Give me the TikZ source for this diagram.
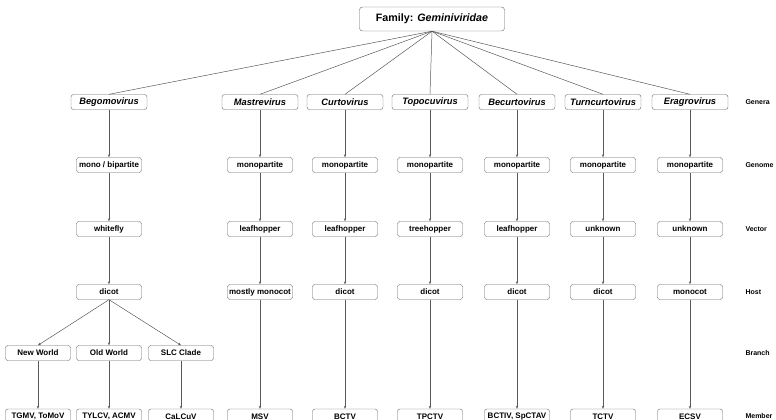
\documentclass[tikz,border=0pt]{standalone}
\usepackage{fontspec}
\setmainfont{Liberation Sans}
\usetikzlibrary{arrows.meta}
\begin{document}
\begin{tikzpicture}[x=1pt,y=-1pt,
  box/.style={draw=black!60, rounded corners=2.5pt, fill=white, inner sep=1pt,
    minimum width=65pt, minimum height=15pt, font=\bfseries\fontsize{8}{9}\selectfont},
  genbox/.style={box, minimum width=76pt, font=\bfseries\itshape\fontsize{9.3}{10}\selectfont},
  link/.style={draw=black!65, line width=0.5pt},
  arr/.style={link, -{Stealth[length=3pt,width=2.4pt]}},
  rowlab/.style={anchor=west, font=\bfseries\fontsize{7}{8}\selectfont}]
\useasboundingbox (0,0) rectangle (776,420);
% Family at the top
\node[box, minimum width=145pt, minimum height=24pt, rounded corners=3pt,
  font=\bfseries\fontsize{10.7}{12}\selectfont] (fam) at (432,19) {Family: \textit{Geminiviridae}};
% Row labels on the right
\foreach \lab/\y in {Genera/102, Genome/165, Vector/229, Host/292, Branch/353, Member/416} {
  \node[rowlab] (lab\lab) at (742,\y) {\lab};
}
% Begomovirus column, split into branches
\node[genbox] (gbego) at (109,102) {Begomovirus};
\node[box] (gmbego) at (109,165) {mono / bipartite};
\node[box] (vbego) at (109,229) {whitefly};
\node[box] (hbego) at (109,292) {dicot};
\draw[link] (fam.south) -- (gbego.north);
\draw[arr] (gbego) -- (gmbego);
\draw[arr] (gmbego) -- (vbego);
\draw[arr] (vbego) -- (hbego);
\foreach \n/\x/\br/\mem in {nw/38/New World/{TGMV, ToMoV}, ow/109/Old World/{TYLCV, ACMV}, slc/181/SLC Clade/CaLCuV} {
  \node[box] (b\n) at (\x,353) {\br};
  \node[box] (m\n) at (\x,416.5) {\mem};
  \draw[arr] (hbego.south) -- (b\n.north);
  \draw[arr] (b\n) -- (m\n);
}
% Remaining genera, one column each
\foreach \n/\x/\gen/\genome/\vec/\host/\mem in {
    mas/260/Mastrevirus/monopartite/leafhopper/mostly monocot/MSV,
    cur/345/Curtovirus/monopartite/leafhopper/dicot/BCTV,
    top/430/Topocuvirus/monopartite/treehopper/dicot/TPCTV,
    bec/517/Becurtovirus/monopartite/leafhopper/dicot/{BCTIV, SpCTAV},
    tur/603/Turncurtovirus/monopartite/unknown/dicot/TCTV,
    era/690/Eragrovirus/monopartite/unknown/monocot/ECSV} {
  \node[genbox] (g\n) at (\x,102) {\gen};
  \node[box] (gm\n) at (\x,165) {\genome};
  \node[box] (v\n) at (\x,229) {\vec};
  \node[box] (h\n) at (\x,292) {\host};
  \node[box] (m\n) at (\x,416.5) {\mem};
  \draw[link] (fam.south) -- (g\n.north);
  \draw[arr] (g\n) -- (gm\n);
  \draw[arr] (gm\n) -- (v\n);
  \draw[arr] (v\n) -- (h\n);
  \draw[arr] (h\n) -- (m\n);
}
\end{tikzpicture}
\end{document}
